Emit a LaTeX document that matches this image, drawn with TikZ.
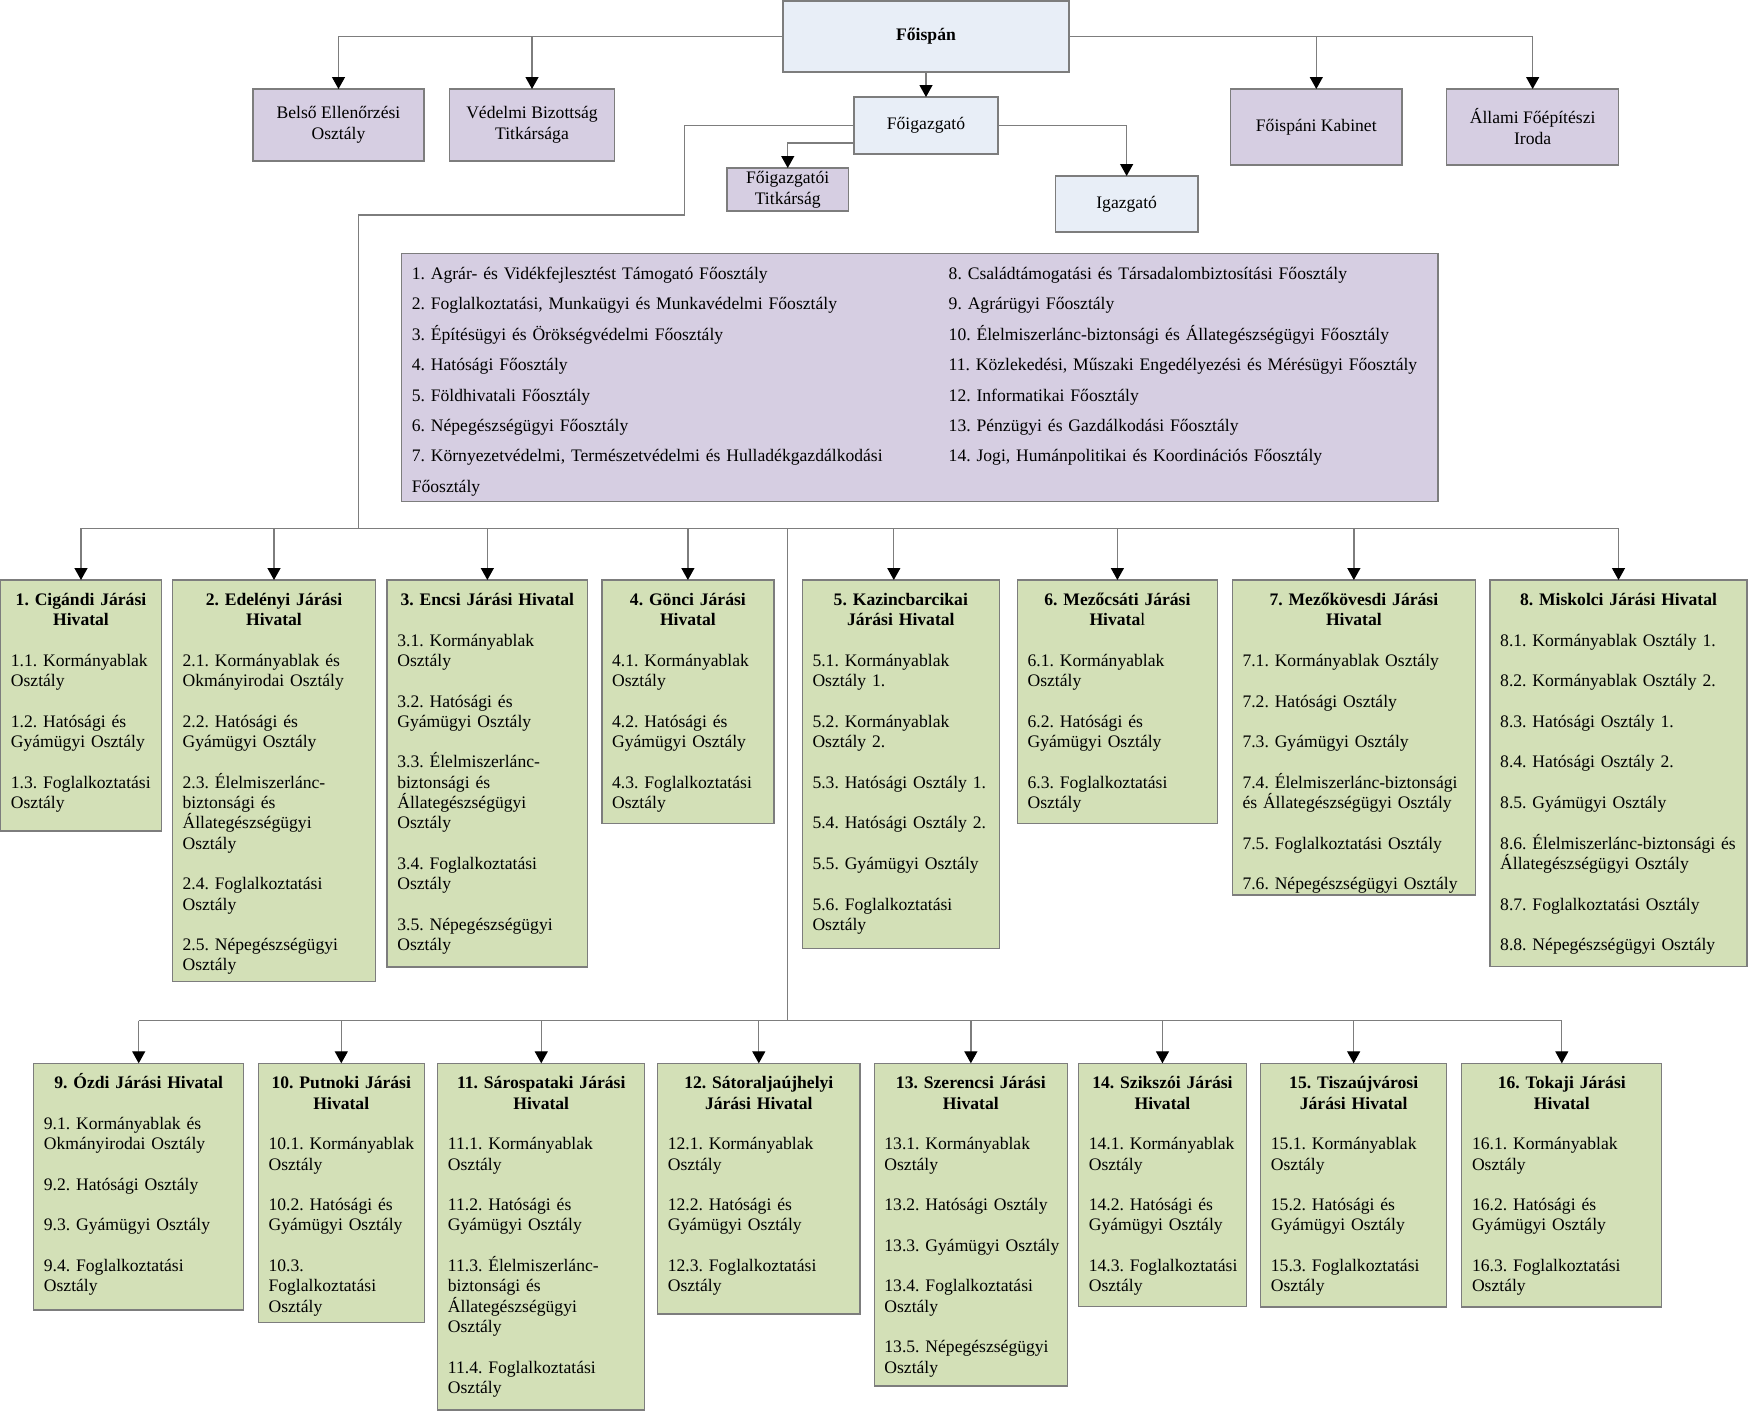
\documentclass[tikz,border=0pt]{standalone}
\usepackage{fontspec}
\setmainfont{Liberation Serif}
\frenchspacing
\usetikzlibrary{arrows.meta,calc}
\definecolor{purp}{RGB}{214,206,226}
\definecolor{grn}{RGB}{211,224,183}
\definecolor{blu}{RGB}{232,238,247}
\definecolor{edgec}{RGB}{125,125,125}
\definecolor{wirec}{RGB}{125,125,125}
\newcommand{\gapline}{\\[20.3pt]}
\newcommand{\fnt}{\fontsize{17.6}{20.3}\selectfont\frenchspacing}
\tikzset{
  rbox/.style={draw=edgec, line width=1.3pt, inner sep=0pt, outer sep=0pt, anchor=north west},
  dbox/.style={rbox, fill=grn},
  pbox/.style={rbox, fill=purp},
  bbox/.style={rbox, fill=blu},
  lbl/.style={align=center, font=\fontsize{17.6}{21}\selectfont, inner sep=0pt},
  dtitle/.style={anchor=base, text width=280pt, align=center, font=\fnt\bfseries, inner sep=0pt},
  dbody/.style={anchor=base west, text width=300pt, align=left, font=\fnt, inner sep=0pt},
  lbody/.style={anchor=base west, text width=520pt, align=left, font=\fontsize{17.6}{30.4}\selectfont\frenchspacing, inner sep=0pt},
  wire/.style={draw=wirec, line width=1.3pt},
  arr/.style={wire, -{Triangle[width=13pt,length=12pt,color=black]}},
}
\newcommand{\mkbox}[6]{%
  \node[#1, minimum width={#5-#3}, minimum height={#6-#4}] (#2) at (#3,#4) {};}
\newcommand{\district}[8]{%
  \mkbox{dbox}{d#1}{#2}{#3}{#4}{#5}
  \node[dtitle] (t#1) at ({(#2+#4)/2},{#3+25.5}) {#6};
  \node[dbody] (b#1) at ({#2+10},{#7}) {#8};}
\begin{document}
\begin{tikzpicture}[x=1pt,y=-1pt]
\useasboundingbox[fill=white] (0,0) rectangle (1748,1411);

% top level
\mkbox{bbox}{fo}{783}{1}{1069}{72}
\node[lbl, font=\fnt\bfseries] (fot) at (fo) {Főispán};
\mkbox{bbox}{fig}{854}{97}{998}{154}
\node[lbl] (figt) at (fig) {Főigazgató};
\mkbox{pbox}{tit}{727}{168}{848.5}{211}
\node[lbl] (titt) at (tit) {Főigazgatói\\Titkárság};
\mkbox{bbox}{igz}{1055.3}{176}{1198}{232}
\node[lbl] (igzt) at (igz) {Igazgató};
\mkbox{pbox}{bel}{253}{89}{424}{161}
\node[lbl] (belt) at (bel) {Belső Ellenőrzési\\Osztály};
\mkbox{pbox}{ved}{449.5}{89}{614.5}{161}
\node[lbl] (vedt) at (ved) {Védelmi Bizottság\\Titkársága};
\mkbox{pbox}{kab}{1230.6}{89}{1402}{165}
\node[lbl] (kabt) at (kab) {Főispáni Kabinet};
\mkbox{pbox}{all}{1446.7}{89}{1618.6}{165}
\node[lbl] (allt) at (all) {Állami Főépítészi\\Iroda};

% list of main departments
\mkbox{pbox}{lst}{401.5}{253.3}{1438}{501.7}
\node[lbody] (lstl) at (411.6,279.5) {1. Agrár- és Vidékfejlesztést Támogató Főosztály\\
2. Foglalkoztatási, Munkaügyi és Munkavédelmi Főosztály\\
3. Építésügyi és Örökségvédelmi Főosztály\\
4. Hatósági Főosztály\\
5. Földhivatali Főosztály\\
6. Népegészségügyi Főosztály\\
7. Környezetvédelmi, Természetvédelmi és Hulladékgazdálkodási\\
Főosztály};
\node[lbody] (lstr) at (948.5,279.5) {8. Családtámogatási és Társadalombiztosítási Főosztály\\
9. Agrárügyi Főosztály\\
10. Élelmiszerlánc-biztonsági és Állategészségügyi Főosztály\\
11. Közlekedési, Műszaki Engedélyezési és Mérésügyi Főosztály\\
12. Informatikai Főosztály\\
13. Pénzügyi és Gazdálkodási Főosztály\\
14. Jogi, Humánpolitikai és Koordinációs Főosztály};

% row 1 districts
\district{1}{0.7}{580}{161.3}{831}{1. Cigándi Járási\\Hivatal}{666.4}{1.1. Kormányablak\\Osztály\gapline 1.2. Hatósági és\\Gyámügyi Osztály\gapline 1.3. Foglalkoztatási\\Osztály}
\district{2}{172.4}{580}{375.6}{981.3}{2. Edelényi Járási\\Hivatal}{666.4}{2.1. Kormányablak és\\Okmányirodai Osztály\gapline 2.2. Hatósági és\\Gyámügyi Osztály\gapline 2.3. Élelmiszerlánc-\\biztonsági és\\Állategészségügyi\\Osztály\gapline 2.4. Foglalkoztatási\\Osztály\gapline 2.5. Népegészségügyi\\Osztály}
\district{3}{387.1}{580}{587.6}{967}{3. Encsi Járási Hivatal}{646.1}{3.1. Kormányablak\\Osztály\gapline 3.2. Hatósági és\\Gyámügyi Osztály\gapline 3.3. Élelmiszerlánc-\\biztonsági és\\Állategészségügyi\\Osztály\gapline 3.4. Foglalkoztatási\\Osztály\gapline 3.5. Népegészségügyi\\Osztály}
\district{4}{601.9}{580}{773.9}{823.3}{4. Gönci Járási\\Hivatal}{666.4}{4.1. Kormányablak\\Osztály\gapline 4.2. Hatósági és\\Gyámügyi Osztály\gapline 4.3. Foglalkoztatási\\Osztály}
\district{5}{802.3}{580}{999.3}{948.3}{5. Kazincbarcikai\\Járási Hivatal}{666.4}{5.1. Kormányablak\\Osztály 1.\gapline 5.2. Kormányablak\\Osztály 2.\gapline 5.3. Hatósági Osztály 1.\gapline 5.4. Hatósági Osztály 2.\gapline 5.5. Gyámügyi Osztály\gapline 5.6. Foglalkoztatási\\Osztály}
\district{6}{1017.4}{580}{1217.4}{823.3}{6. Mezőcsáti Járási\\Hivata{\mdseries l}}{666.4}{6.1. Kormányablak\\Osztály\gapline 6.2. Hatósági és\\Gyámügyi Osztály\gapline 6.3. Foglalkoztatási\\Osztály}
\district{7}{1232.3}{580}{1475.4}{895}{7. Mezőkövesdi Járási\\Hivatal}{666.4}{7.1. Kormányablak Osztály\gapline 7.2. Hatósági Osztály\gapline 7.3. Gyámügyi Osztály\gapline 7.4. Élelmiszerlánc-biztonsági\\és Állategészségügyi Osztály\gapline 7.5. Foglalkoztatási Osztály\gapline 7.6. Népegészségügyi Osztály}
\district{8}{1490}{580}{1747}{966.7}{8. Miskolci Járási Hivatal}{646.1}{8.1. Kormányablak Osztály 1.\gapline 8.2. Kormányablak Osztály 2.\gapline 8.3. Hatósági Osztály 1.\gapline 8.4. Hatósági Osztály 2.\gapline 8.5. Gyámügyi Osztály\gapline 8.6. Élelmiszerlánc-biztonsági és\\Állategészségügyi Osztály\gapline 8.7. Foglalkoztatási Osztály\gapline 8.8. Népegészségügyi Osztály}

% row 2 districts
\district{9}{33.7}{1063.3}{243.7}{1310}{9. Ózdi Járási Hivatal}{1129.4}{9.1. Kormányablak és\\Okmányirodai Osztály\gapline 9.2. Hatósági Osztály\gapline 9.3. Gyámügyi Osztály\gapline 9.4. Foglalkoztatási\\Osztály}
\district{10}{258.4}{1063.3}{424.2}{1322.7}{10. Putnoki Járási\\Hivatal}{1149.7}{10.1. Kormányablak\\Osztály\gapline 10.2. Hatósági és\\Gyámügyi Osztály\gapline 10.3.\\Foglalkoztatási\\Osztály}
\district{11}{437.7}{1063.3}{644.8}{1410}{11. Sárospataki Járási\\Hivatal}{1149.7}{11.1. Kormányablak\\Osztály\gapline 11.2. Hatósági és\\Gyámügyi Osztály\gapline 11.3. Élelmiszerlánc-\\biztonsági és\\Állategészségügyi\\Osztály\gapline 11.4. Foglalkoztatási\\Osztály}
\district{12}{657.6}{1063.3}{860}{1314}{12. Sátoraljaújhelyi\\Járási Hivatal}{1149.7}{12.1. Kormányablak\\Osztály\gapline 12.2. Hatósági és\\Gyámügyi Osztály\gapline 12.3. Foglalkoztatási\\Osztály}
\district{13}{874.2}{1063.3}{1067.5}{1386}{13. Szerencsi Járási\\Hivatal}{1149.7}{13.1. Kormányablak\\Osztály\gapline 13.2. Hatósági Osztály\gapline 13.3. Gyámügyi Osztály\gapline 13.4. Foglalkoztatási\\Osztály\gapline 13.5. Népegészségügyi\\Osztály}
\district{14}{1078.6}{1063.3}{1246.3}{1306.7}{14. Szikszói Járási\\Hivatal}{1149.7}{14.1. Kormányablak\\Osztály\gapline 14.2. Hatósági és\\Gyámügyi Osztály\gapline 14.3. Foglalkoztatási\\Osztály}
\district{15}{1260.7}{1063.3}{1446.6}{1307}{15. Tiszaújvárosi\\Járási Hivatal}{1149.7}{15.1. Kormányablak\\Osztály\gapline 15.2. Hatósági és\\Gyámügyi Osztály\gapline 15.3. Foglalkoztatási\\Osztály}
\district{16}{1461.8}{1063.3}{1661.8}{1307}{16. Tokaji Járási\\Hivatal}{1149.7}{16.1. Kormányablak\\Osztály\gapline 16.2. Hatósági és\\Gyámügyi Osztály\gapline 16.3. Foglalkoztatási\\Osztály}

% connectors, top
\draw[arr] (fo.west) -| (bel.north);
\draw[arr] (fo.west) -| (ved.north);
\draw[arr] (fo.east) -| (all.north);
\draw[arr] (fo.east) -| (kab.north);
\draw[arr] (fo.south) -- (fig.north);
\draw[arr] (fig.east) -| (igz.north);
\draw[arr] ($(fig.west)+(0,17.5)$) -| (tit.north);

% connector to the districts
\coordinate (k1) at (684.6,215);
\coordinate (k2) at (358.6,215);
\coordinate (busA) at (358.6,528.3);
\coordinate (busB) at (787.7,1020.7);
\coordinate (mid) at (787.7,528.3);
\draw[wire] (fig.west) -| (k1) -- (k2) -- (busA);
\draw[wire] (d1.north |- busA) -- (d8.north |- busA);
\foreach \i in {1,2,3,4,6,7,8} \draw[arr] (d\i.north |- busA) -- (d\i.north);
\coordinate (k5) at ([xshift=-7pt]d5.north);
\draw[arr] (k5 |- busA) -- (k5);
\draw[wire] (mid) -- (busB);
\draw[wire] (d9.north |- busB) -- (d16.north |- busB);
\foreach \i in {9,...,16} \draw[arr] (d\i.north |- busB) -- (d\i.north);
\end{tikzpicture}
\end{document}
